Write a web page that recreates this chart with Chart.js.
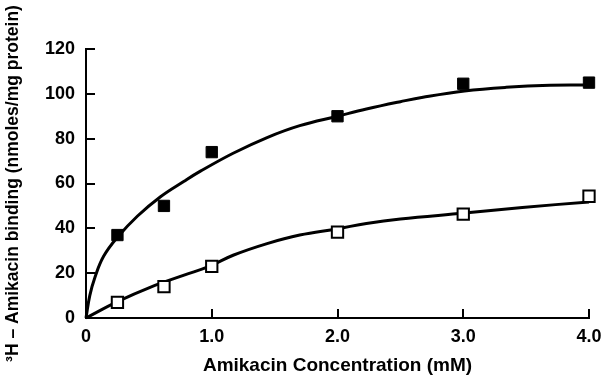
<!DOCTYPE html>
<html>
<head>
<meta charset="utf-8">
<script src="https://cdn.jsdelivr.net/npm/chart.js@4.4.1/dist/chart.umd.min.js"></script>
<style>
  body { margin: 0; background: #fff; }
  #wrap { width: 603px; height: 377px; }
</style>
</head>
<body>
<div id="wrap"><canvas id="grafico" width="603" height="377"></canvas></div>
<script>
// measured points
const concFilled = [0.25, 0.62, 1.0, 2.0, 3.0, 4.0];
const bindFilled = [37, 50, 74, 90, 104.5, 105];
const concOpen = [0.25, 0.62, 1.0, 2.0, 3.0, 4.0];
const bindOpen = [7, 14, 23, 38.3, 46.3, 54.3];

// fitted curves
const curveFilledX = [0, 0.03, 0.07, 0.14, 0.25, 0.41, 0.59, 0.78, 0.91, 1.17, 1.44, 1.70, 2.0, 2.23, 2.5, 2.68, 3.01, 3.34, 3.69, 4.0];
const curveFilledY = [0, 10, 18, 27.5, 36, 45.5, 54, 61, 65.5, 73.5, 80.5, 85.8, 90, 93.2, 96.5, 98.5, 101.3, 102.9, 103.8, 103.9];
const curveOpenX = [0, 0.25, 0.51, 0.78, 0.98, 1.17, 1.44, 1.70, 2.0, 2.23, 2.5, 3.01, 3.47, 4.0];
const curveOpenY = [0, 7.3, 13.7, 19.1, 23, 28, 33.2, 37, 39.8, 42.2, 44.2, 46.8, 49.3, 51.8];

const xTicks = [0, 1, 2, 3, 4];
const xTickLabels = ['0', '1.0', '2.0', '3.0', '4.0'];
const yTicks = [0, 20, 40, 60, 80, 100, 120];

const fuente = 'Liberation Sans, Arial, Helvetica, sans-serif';

function pares(xs, ys) {
  return xs.map((x, i) => ({ x: x, y: ys[i] }));
}

// inward tick marks
const marcasInternas = {
  id: 'marcasInternas',
  afterDraw(chart) {
    const ctx = chart.ctx;
    const xs = chart.scales.x, ys = chart.scales.y;
    ctx.save();
    ctx.strokeStyle = '#000';
    ctx.lineWidth = 2;
    xTicks.forEach(v => {
      if (v === 0) return;
      const px = Math.round(xs.getPixelForValue(v));
      ctx.beginPath();
      ctx.moveTo(px, ys.bottom);
      ctx.lineTo(px, ys.bottom - 9);
      ctx.stroke();
    });
    yTicks.forEach(v => {
      if (v === 0) return;
      const py = Math.round(ys.getPixelForValue(v));
      ctx.beginPath();
      ctx.moveTo(xs.left, py);
      ctx.lineTo(xs.left + 9, py);
      ctx.stroke();
    });
    ctx.restore();
  }
};

new Chart(document.getElementById('grafico').getContext('2d'), {
  type: 'scatter',
  data: {
    datasets: [
      {
        label: 'filled',
        data: pares(concFilled, bindFilled),
        pointStyle: 'rect',
        pointRadius: 8,
        backgroundColor: '#000',
        borderColor: '#000',
        borderWidth: 1,
        clip: false,
        order: 1
      },
      {
        label: 'open',
        data: pares(concOpen, bindOpen),
        pointStyle: 'rect',
        pointRadius: 8,
        backgroundColor: '#fff',
        borderColor: '#000',
        borderWidth: 2,
        clip: false,
        order: 1
      },
      {
        label: 'fit filled',
        data: pares(curveFilledX, curveFilledY),
        showLine: true,
        pointRadius: 0,
        borderColor: '#000',
        borderWidth: 3,
        tension: 0.4,
        clip: false,
        order: 2
      },
      {
        label: 'fit open',
        data: pares(curveOpenX, curveOpenY),
        showLine: true,
        pointRadius: 0,
        borderColor: '#000',
        borderWidth: 3,
        tension: 0.4,
        clip: false,
        order: 2
      }
    ]
  },
  options: {
    responsive: false,
    animation: false,
    layout: { padding: { top: 49, right: 14, left: 0, bottom: 0 } },
    plugins: {
      legend: { display: false },
      tooltip: { enabled: false }
    },
    scales: {
      x: {
        type: 'linear',
        min: 0,
        max: 4,
        afterBuildTicks: s => { s.ticks = xTicks.map(v => ({ value: v })); },
        afterFit: s => { s.height = 59; s.paddingLeft = 0; s.paddingRight = 0; },
        grid: { display: false, drawTicks: false },
        border: { display: true, color: '#000', width: 2 },
        ticks: {
          padding: 8,
          color: '#000',
          font: { family: fuente, size: 18, weight: 'bold' },
          callback: (v) => xTickLabels[xTicks.indexOf(v)]
        },
        title: {
          display: true,
          text: 'Amikacin Concentration (mM)',
          color: '#000',
          font: { family: fuente, size: 19, weight: 'bold' },
          padding: { top: 1, bottom: 0 }
        }
      },
      y: {
        type: 'linear',
        min: 0,
        max: 120,
        afterBuildTicks: s => { s.ticks = yTicks.map(v => ({ value: v })); },
        afterFit: s => { s.width = 86; s.paddingTop = 0; s.paddingBottom = 0; },
        grid: { display: false, drawTicks: false },
        border: { display: true, color: '#000', width: 2 },
        ticks: {
          padding: 11,
          color: '#000',
          font: { family: fuente, size: 18, weight: 'bold' }
        },
        title: {
          display: true,
          text: '³H – Amikacin binding (nmoles/mg protein)',
          color: '#000',
          font: { family: fuente, size: 17.5, weight: 'bold' },
          padding: { top: 3, bottom: 0 }
        }
      }
    }
  },
  plugins: [marcasInternas]
});
</script>
</body>
</html>
